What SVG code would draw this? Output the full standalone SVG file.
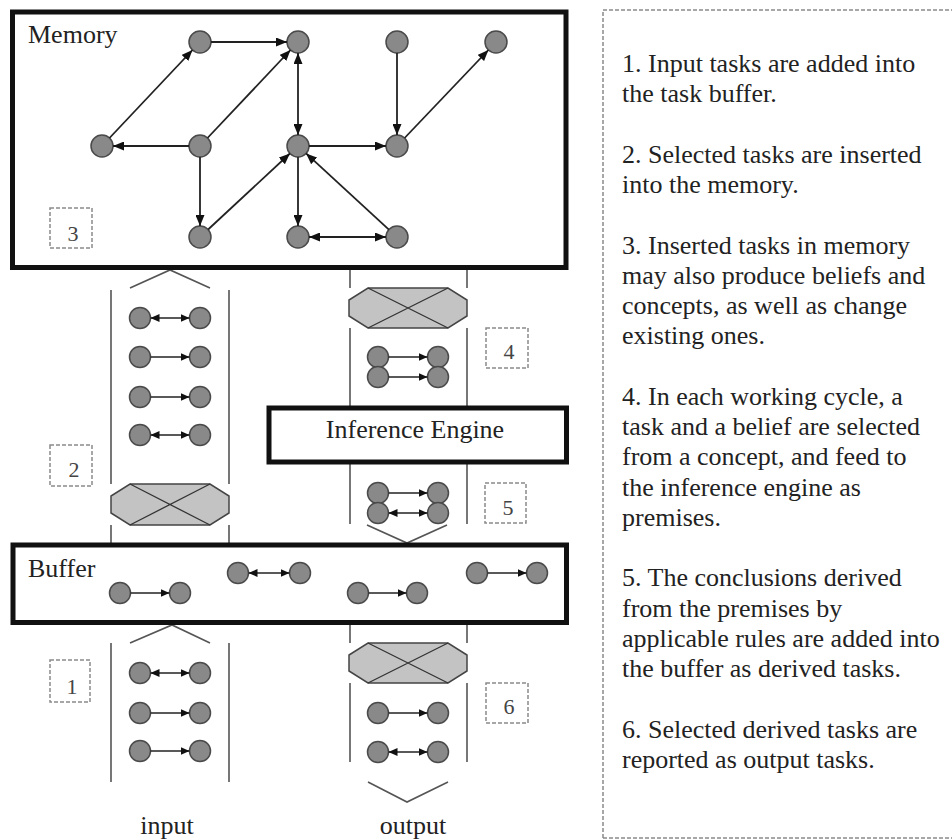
<svg xmlns="http://www.w3.org/2000/svg" width="952" height="840" viewBox="0 0 952 840">
<style>
.box{fill:#fff;stroke:#111;stroke-width:5}
.n{fill:#898989;stroke:#4a4a4a;stroke-width:1.5}
.e{stroke:#222;stroke-width:1.8;fill:none}
.pe{stroke:#222;stroke-width:1.5;fill:none}
.col{stroke:#555;stroke-width:1.6;fill:none}
.oct{fill:#c3c3c3;stroke:#444;stroke-width:1.5}
.x{stroke:#333;stroke-width:1.3;fill:none}
.dash{fill:none;stroke:#8a8a8a;stroke-width:1.5;stroke-dasharray:4 2}
.t{font-family:'Liberation Serif','Times New Roman',serif;font-size:26px;fill:#222}
.num{font-family:'Liberation Serif','Times New Roman',serif;font-size:22px;fill:#444;text-anchor:middle}
</style>
<defs>
<marker id="ah" viewBox="0 0 11 9" refX="11" refY="4.5" markerWidth="11" markerHeight="9" markerUnits="userSpaceOnUse" orient="auto-start-reverse"><path d="M0,0L11,4.5L0,9z" fill="#111"/></marker>
<marker id="as" viewBox="0 0 9 8" refX="9" refY="4" markerWidth="9" markerHeight="8" markerUnits="userSpaceOnUse" orient="auto-start-reverse"><path d="M0,0L9,4L0,8z" fill="#111"/></marker>
</defs>
<rect width="952" height="840" fill="#fff"/>

<!-- Text panel -->
<g id="legend">
<path d="M603,838V10H952M603,838H952" class="dash" stroke-dasharray="3 2"/>
<text class="t" x="622" y="72">1. Input tasks are added into</text>
<text class="t" x="622" y="102.25">the task buffer.</text>
<text class="t" x="622" y="162.75">2. Selected tasks are inserted</text>
<text class="t" x="622" y="193">into the memory.</text>
<text class="t" x="622" y="253.5">3. Inserted tasks in memory</text>
<text class="t" x="622" y="283.75">may also produce beliefs and</text>
<text class="t" x="622" y="314">concepts, as well as change</text>
<text class="t" x="622" y="344.25">existing ones.</text>
<text class="t" x="622" y="404.75">4. In each working cycle, a</text>
<text class="t" x="622" y="435">task and a belief are selected</text>
<text class="t" x="622" y="465.25">from a concept, and feed to</text>
<text class="t" x="622" y="495.5">the inference engine as</text>
<text class="t" x="622" y="525.75">premises.</text>
<text class="t" x="622" y="586.25">5. The conclusions derived</text>
<text class="t" x="622" y="616.5">from the premises by</text>
<text class="t" x="622" y="646.75">applicable rules are added into</text>
<text class="t" x="622" y="677">the buffer as derived tasks.</text>
<text class="t" x="622" y="737.5">6. Selected derived tasks are</text>
<text class="t" x="622" y="767.75">reported as output tasks.</text>
</g>

<!-- Column channels -->
<g id="columns">
<path class="col" d="M111,290V484M229,290V484M111,525V543M229,525V543M111,643V782M229,643V782"/>
<path class="col" d="M350,270V288M467,270V288M350,328V406M467,328V406M350,464V524M467,464V524M350,625V643M467,625V643M350,683V762M467,683V762"/>
<polyline class="col" points="130,288 170,270 210,288"/>
<polyline class="col" points="130,643 172,625 210,643"/>
<polyline class="col" points="367,525 407,543 447,525"/>
<polyline class="col" points="368,782 407,802 448,782"/>
</g>

<!-- Memory -->
<g id="memory">
<rect class="box" x="12.5" y="12" width="553.5" height="255.5"/>
<text class="t" x="28" y="43">Memory</text>
</g>
<g id="step3"><rect class="dash" x="50" y="208" width="42" height="40"/><text class="num" x="73" y="241">3</text></g>

<g id="m1"><circle class="n" cx="200" cy="42" r="11"/></g>
<g id="m2"><circle class="n" cx="298" cy="42" r="11"/></g>
<g id="m3"><circle class="n" cx="397" cy="42" r="11"/></g>
<g id="m4"><circle class="n" cx="496" cy="42" r="11"/></g>
<g id="m5"><circle class="n" cx="102" cy="146" r="11"/></g>
<g id="m6"><circle class="n" cx="200" cy="146" r="11"/></g>
<g id="m7"><circle class="n" cx="298" cy="146" r="11"/></g>
<g id="m8"><circle class="n" cx="397" cy="146" r="11"/></g>
<g id="m9"><circle class="n" cx="200" cy="237" r="11"/></g>
<g id="m10"><circle class="n" cx="298" cy="237" r="11"/></g>
<g id="m11"><circle class="n" cx="397" cy="237" r="11"/></g>

<!-- Inference engine -->
<g id="inference-engine">
<rect class="box" x="269" y="408" width="297.5" height="54"/>
<text class="t" x="415" y="438" text-anchor="middle">Inference Engine</text>
</g>

<!-- Buffer -->
<g id="buffer">
<rect class="box" x="13" y="545" width="553.5" height="77.5"/>
<text class="t" x="28" y="577">Buffer</text>
</g>

<!-- Selectors (octagons) -->
<g id="sel-left">
<polygon class="oct" points="130,484 210,484 229,496 229,513 210,525 130,525 111,513 111,496"/>
<path class="x" d="M130,484L210,525M210,484L130,525"/>
</g>
<g id="sel-right-top">
<polygon class="oct" points="368,288 448,288 467,300 467,316 448,328 368,328 349,316 349,300"/>
<path class="x" d="M368,288L448,328M448,288L368,328"/>
</g>
<g id="sel-right-bottom">
<polygon class="oct" points="368,643 448,643 467,655 467,671 448,683 368,683 349,671 349,655"/>
<path class="x" d="M368,643L448,683M448,643L368,683"/>
</g>

<!-- Step labels -->
<g id="step1"><rect class="dash" x="50" y="660" width="40" height="42"/><text class="num" x="72" y="694">1</text></g>
<g id="step2"><rect class="dash" x="50" y="445" width="42" height="41"/><text class="num" x="74" y="477">2</text></g>
<g id="step4"><rect class="dash" x="486" y="328" width="42" height="40"/><text class="num" x="509" y="359">4</text></g>
<g id="step5"><rect class="dash" x="485" y="483" width="41" height="40"/><text class="num" x="508" y="515">5</text></g>
<g id="step6"><rect class="dash" x="486" y="683" width="42" height="40"/><text class="num" x="509" y="714">6</text></g>

<!-- Task pairs -->
<g id="li1"><circle class="n" cx="140" cy="318" r="10.5"/><circle class="n" cx="200" cy="318" r="10.5"/></g>
<g id="li2"><circle class="n" cx="140" cy="357" r="10.5"/><circle class="n" cx="200" cy="357" r="10.5"/></g>
<g id="li3"><circle class="n" cx="140" cy="397" r="10.5"/><circle class="n" cx="200" cy="397" r="10.5"/></g>
<g id="li4"><circle class="n" cx="140" cy="435" r="10.5"/><circle class="n" cx="200" cy="435" r="10.5"/></g>
<g id="ri1"><circle class="n" cx="378" cy="357" r="10.5"/><circle class="n" cx="438" cy="357" r="10.5"/></g>
<g id="ri2"><circle class="n" cx="378" cy="377" r="10.5"/><circle class="n" cx="438" cy="377" r="10.5"/></g>
<g id="ro1"><circle class="n" cx="378" cy="493" r="10.5"/><circle class="n" cx="438" cy="493" r="10.5"/></g>
<g id="ro2"><circle class="n" cx="378" cy="513" r="10.5"/><circle class="n" cx="438" cy="513" r="10.5"/></g>
<g id="b1"><circle class="n" cx="120" cy="593" r="10.5"/><circle class="n" cx="180" cy="593" r="10.5"/></g>
<g id="b2"><circle class="n" cx="238" cy="573" r="10.5"/><circle class="n" cx="300" cy="573" r="10.5"/></g>
<g id="b3"><circle class="n" cx="358" cy="593" r="10.5"/><circle class="n" cx="417" cy="593" r="10.5"/></g>
<g id="b4"><circle class="n" cx="477" cy="573" r="10.5"/><circle class="n" cx="537" cy="573" r="10.5"/></g>
<g id="in1"><circle class="n" cx="140" cy="673" r="10.5"/><circle class="n" cx="200" cy="673" r="10.5"/></g>
<g id="in2"><circle class="n" cx="140" cy="713" r="10.5"/><circle class="n" cx="200" cy="713" r="10.5"/></g>
<g id="in3"><circle class="n" cx="140" cy="751" r="10.5"/><circle class="n" cx="200" cy="751" r="10.5"/></g>
<g id="out1"><circle class="n" cx="378" cy="713" r="10.5"/><circle class="n" cx="438" cy="713" r="10.5"/></g>
<g id="out2"><circle class="n" cx="378" cy="752" r="10.5"/><circle class="n" cx="438" cy="752" r="10.5"/></g>

<!-- Connectors -->
<g id="connectors">
<g class="e" marker-end="url(#ah)">
<line x1="211" y1="42" x2="287" y2="42"/>
<line x1="109.5" y1="138" x2="192.5" y2="50"/>
<line x1="189" y1="146" x2="113" y2="146"/>
<line x1="207.5" y1="138" x2="290.5" y2="50"/>
<line x1="200" y1="157" x2="200" y2="226"/>
<line x1="208.1" y1="229.5" x2="289.9" y2="153.5"/>
<line x1="298" y1="53" x2="298" y2="135" marker-start="url(#ah)"/>
<line x1="309" y1="146" x2="386" y2="146"/>
<line x1="298" y1="157" x2="298" y2="226"/>
<line x1="309" y1="237" x2="386" y2="237" marker-start="url(#ah)"/>
<line x1="388.9" y1="229.6" x2="306.1" y2="153.4"/>
<line x1="397" y1="53" x2="397" y2="135"/>
<line x1="404.6" y1="138" x2="488.4" y2="50"/>
</g>
<g class="pe" marker-end="url(#as)">
<line x1="150.5" y1="318" x2="189.5" y2="318" marker-start="url(#as)"/>
<line x1="150.5" y1="357" x2="189.5" y2="357"/>
<line x1="150.5" y1="397" x2="189.5" y2="397"/>
<line x1="150.5" y1="435" x2="189.5" y2="435" marker-start="url(#as)"/>
<line x1="388.5" y1="357" x2="427.5" y2="357"/>
<line x1="388.5" y1="377" x2="427.5" y2="377"/>
<line x1="388.5" y1="493" x2="427.5" y2="493"/>
<line x1="388.5" y1="513" x2="427.5" y2="513" marker-start="url(#as)"/>
<line x1="130.5" y1="593" x2="169.5" y2="593"/>
<line x1="248.5" y1="573" x2="289.5" y2="573" marker-start="url(#as)"/>
<line x1="368.5" y1="593" x2="406.5" y2="593"/>
<line x1="487.5" y1="573" x2="526.5" y2="573"/>
<line x1="150.5" y1="673" x2="189.5" y2="673" marker-start="url(#as)"/>
<line x1="150.5" y1="713" x2="189.5" y2="713"/>
<line x1="150.5" y1="751" x2="189.5" y2="751"/>
<line x1="388.5" y1="713" x2="427.5" y2="713"/>
<line x1="388.5" y1="752" x2="427.5" y2="752" marker-start="url(#as)"/>
</g>
</g>

<g id="io-labels">
<text class="t" x="167" y="834" text-anchor="middle">input</text>
<text class="t" x="413" y="834" text-anchor="middle">output</text>
</g>
</svg>
